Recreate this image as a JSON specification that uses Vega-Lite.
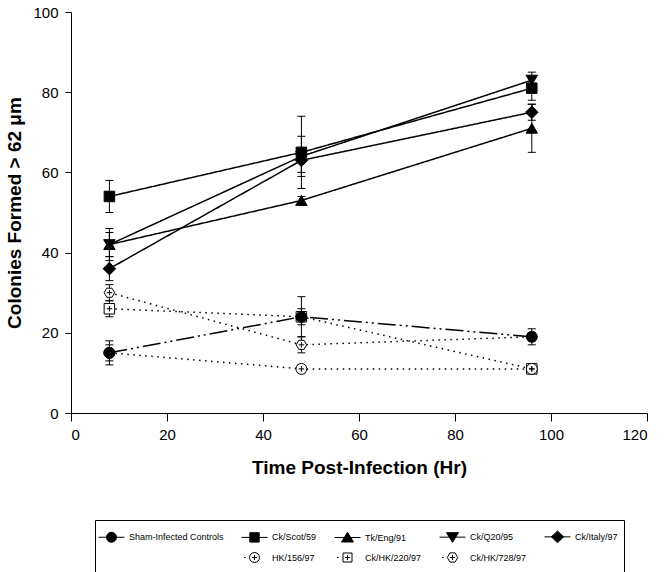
{
  "$schema": "https://vega.github.io/schema/vega-lite/v6.json",
  "width": 576,
  "height": 401,
  "padding": {"left": 5, "top": 5, "right": 5, "bottom": 3},
  "config": {
    "font": "Liberation Sans",
    "view": {"stroke": null},
    "axis": {"grid": false, "domainColor": "black", "tickColor": "black", "labelColor": "black", "titleColor": "black", "labelFont": "Liberation Sans", "titleFont": "Liberation Sans", "labelFontSize": 15, "titleFontSize": 19, "titleFontWeight": "bold", "domainWidth": 1, "tickWidth": 1},
    "legend": {"layout": {"bottom": {"anchor": "middle"}}}
  },
  "data": {"values": [
    {"series": "HK/156/97", "t": 8, "y": 15, "lo": 13, "hi": 17},
    {"series": "HK/156/97", "t": 48, "y": 11, "lo": 10, "hi": 12},
    {"series": "HK/156/97", "t": 96, "y": 11, "lo": 10, "hi": 12},
    {"series": "Ck/HK/220/97", "t": 8, "y": 26, "lo": 24, "hi": 28},
    {"series": "Ck/HK/220/97", "t": 48, "y": 24, "lo": 22, "hi": 26},
    {"series": "Ck/HK/220/97", "t": 96, "y": 11, "lo": 10, "hi": 12},
    {"series": "Ck/HK/728/97", "t": 8, "y": 30, "lo": 28, "hi": 32},
    {"series": "Ck/HK/728/97", "t": 48, "y": 17, "lo": 15, "hi": 19},
    {"series": "Ck/HK/728/97", "t": 96, "y": 19, "lo": 18, "hi": 20},
    {"series": "Sham-Infected Controls", "t": 8, "y": 15, "lo": 12, "hi": 18},
    {"series": "Sham-Infected Controls", "t": 48, "y": 24, "lo": 19, "hi": 29},
    {"series": "Sham-Infected Controls", "t": 96, "y": 19, "lo": 17, "hi": 21},
    {"series": "Ck/Scot/59", "t": 8, "y": 54, "lo": 50, "hi": 58},
    {"series": "Ck/Scot/59", "t": 48, "y": 65, "lo": 56, "hi": 74},
    {"series": "Ck/Scot/59", "t": 96, "y": 81, "lo": 78, "hi": 84},
    {"series": "Tk/Eng/91", "t": 8, "y": 42, "lo": 39, "hi": 45},
    {"series": "Tk/Eng/91", "t": 48, "y": 53, "lo": 52, "hi": 54},
    {"series": "Tk/Eng/91", "t": 96, "y": 71, "lo": 65, "hi": 77},
    {"series": "Ck/Q20/95", "t": 8, "y": 42, "lo": 38, "hi": 46},
    {"series": "Ck/Q20/95", "t": 48, "y": 64, "lo": 59, "hi": 69},
    {"series": "Ck/Q20/95", "t": 96, "y": 83, "lo": 81, "hi": 85},
    {"series": "Ck/Italy/97", "t": 8, "y": 36, "lo": 33, "hi": 39},
    {"series": "Ck/Italy/97", "t": 48, "y": 63, "lo": 60, "hi": 66},
    {"series": "Ck/Italy/97", "t": 96, "y": 75, "lo": 73, "hi": 77}
  ]},
  "resolve": {"scale": {"shape": "independent", "fill": "independent", "stroke": "independent", "strokeDash": "independent"}},
  "layer": [
    {
      "transform": [{"filter": "datum.t < 0"}],
      "mark": {"type": "point", "strokeWidth": 1, "opacity": 1, "size": 400},
      "encoding": {
        "x": {"field": "t", "type": "quantitative", "scale": {"domain": [0, 120]}, "axis": {"values": [0, 20, 40, 60, 80, 100, 120], "title": "Time Post-Infection (Hr)", "tickSize": 8, "labelPadding": 6, "titlePadding": 16}},
        "y": {"field": "y", "type": "quantitative", "scale": {"domain": [0, 100]}, "axis": {"values": [0, 20, 40, 60, 80, 100], "title": "Colonies Formed > 62 μm", "tickSize": 6, "labelPadding": 7, "titlePadding": 8}},
        "shape": {"field": "series", "type": "nominal",
          "scale": {"domain": ["Sham-Infected Controls", "Ck/Scot/59", "Tk/Eng/91", "Ck/Q20/95", "Ck/Italy/97", " ", "HK/156/97", "Ck/HK/220/97", "Ck/HK/728/97"],
                    "range": [
                      "M-1.3,0L1.3,0M-0.5,0A0.5,0.5,0,1,1,0.5,0A0.5,0.5,0,1,1,-0.5,0Z",
                      "M-1.3,0L1.3,0M-0.47,-0.47L0.47,-0.47L0.47,0.47L-0.47,0.47Z",
                      "M-1.3,0L1.3,0M0,-0.52L0.6,0.45L-0.6,0.45Z",
                      "M-1.3,0L1.3,0M0,0.52L0.6,-0.45L-0.6,-0.45Z",
                      "M-1.3,0L1.3,0M-0.62,0L0,-0.58L0.62,0L0,0.58Z",
                      "circle",
                      "M-1.05,0L-0.9,0M-0.5,0A0.5,0.5,0,1,1,0.5,0A0.5,0.5,0,1,1,-0.5,0ZM-0.25,0L0.25,0M0,-0.25L0,0.25",
                      "M-1.05,0L-0.9,0M-0.45,-0.45L0.45,-0.45L0.45,0.45L-0.45,0.45ZM-0.25,0L0.25,0M0,-0.25L0,0.25",
                      "M-1.05,0L-0.9,0M-0.52,0L-0.26,-0.46L0.26,-0.46L0.52,0L0.26,0.46L-0.26,0.46ZM-0.25,0L0.25,0M0,-0.25L0,0.25"
                    ]},
          "legend": {"title": null, "orient": "bottom", "direction": "horizontal", "columns": 5, "symbolSize": 400, "symbolStrokeColor": "black", "symbolStrokeWidth": 1, "symbolOpacity": 1, "labelFont": "Liberation Sans", "labelFontSize": 9, "labelColor": "black", "labelLimit": 300, "labelOffset": 7, "columnPadding": 15, "rowPadding": 0, "strokeColor": "black", "padding": 6, "offset": 43}},
        "fill": {"field": "series", "type": "nominal",
          "scale": {"domain": ["Sham-Infected Controls", "Ck/Scot/59", "Tk/Eng/91", "Ck/Q20/95", "Ck/Italy/97", " ", "HK/156/97", "Ck/HK/220/97", "Ck/HK/728/97"],
                    "range": ["black", "black", "black", "black", "black", "white", "white", "white", "white"]},
          "legend": {"title": null, "orient": "bottom", "direction": "horizontal", "columns": 5, "symbolSize": 400, "symbolStrokeColor": "black", "symbolStrokeWidth": 1, "symbolOpacity": 1, "labelFont": "Liberation Sans", "labelFontSize": 9, "labelColor": "black", "labelLimit": 300, "labelOffset": 7, "columnPadding": 15, "rowPadding": 0, "strokeColor": "black", "padding": 6, "offset": 43}},
        "stroke": {"field": "series", "type": "nominal",
          "scale": {"domain": ["Sham-Infected Controls", "Ck/Scot/59", "Tk/Eng/91", "Ck/Q20/95", "Ck/Italy/97", " ", "HK/156/97", "Ck/HK/220/97", "Ck/HK/728/97"],
                    "range": ["black", "black", "black", "black", "black", "white", "black", "black", "black"]},
          "legend": {"title": null, "orient": "bottom", "direction": "horizontal", "columns": 5, "symbolSize": 400, "symbolStrokeColor": "black", "symbolStrokeWidth": 1, "symbolOpacity": 1, "labelFont": "Liberation Sans", "labelFontSize": 9, "labelColor": "black", "labelLimit": 300, "labelOffset": 7, "columnPadding": 15, "rowPadding": 0, "strokeColor": "black", "padding": 6, "offset": 43}}
      }
    },
    {
      "mark": {"type": "line", "color": "black", "strokeWidth": 1.5},
      "encoding": {
        "x": {"field": "t", "type": "quantitative"},
        "y": {"field": "y", "type": "quantitative"},
        "detail": {"field": "series"},
        "strokeDash": {"field": "series", "type": "nominal", "legend": null,
          "scale": {"domain": ["Sham-Infected Controls", "Ck/Scot/59", "Tk/Eng/91", "Ck/Q20/95", "Ck/Italy/97", "HK/156/97", "Ck/HK/220/97", "Ck/HK/728/97"],
                    "range": [[18, 4, 2, 4, 2, 4], [1, 0], [1, 0], [1, 0], [1, 0], [1.5, 4.5], [1.5, 4.5], [1.5, 4.5]]}}
      }
    },
    {
      "mark": {"type": "rule", "color": "black", "strokeWidth": 1},
      "encoding": {
        "x": {"field": "t", "type": "quantitative"},
        "y": {"field": "lo", "type": "quantitative"},
        "y2": {"field": "hi"}
      }
    },
    {
      "mark": {"type": "point", "shape": "M-1,0L1,0", "size": 64, "stroke": "black", "strokeWidth": 1, "opacity": 1},
      "encoding": {
        "x": {"field": "t", "type": "quantitative"},
        "y": {"field": "lo", "type": "quantitative"}
      }
    },
    {
      "mark": {"type": "point", "shape": "M-1,0L1,0", "size": 64, "stroke": "black", "strokeWidth": 1, "opacity": 1},
      "encoding": {
        "x": {"field": "t", "type": "quantitative"},
        "y": {"field": "hi", "type": "quantitative"}
      }
    },
    {
      "transform": [{"filter": {"field": "series", "equal": "Ck/HK/728/97"}}],
      "mark": {"type": "point", "shape": "M-1,0L-0.5,-0.866L0.5,-0.866L1,0L0.5,0.866L-0.5,0.866Z", "size": 110, "stroke": "black", "strokeWidth": 1, "opacity": 1, "fill": "white"},
      "encoding": {
        "x": {"field": "t", "type": "quantitative"},
        "y": {"field": "y", "type": "quantitative"}
      }
    },
    {
      "transform": [{"filter": {"field": "series", "oneOf": ["Ck/HK/220/97", "Ck/Scot/59"]}}],
      "mark": {"type": "point", "shape": "square", "size": 110, "stroke": "black", "strokeWidth": 1, "opacity": 1},
      "encoding": {
        "x": {"field": "t", "type": "quantitative"},
        "y": {"field": "y", "type": "quantitative"},
        "fill": {"condition": {"test": {"field": "series", "oneOf": ["HK/156/97", "Ck/HK/220/97", "Ck/HK/728/97"]}, "value": "white"}, "value": "black"}
      }
    },
    {
      "transform": [{"filter": {"field": "series", "equal": "Tk/Eng/91"}}],
      "mark": {"type": "point", "shape": "triangle-up", "size": 130, "stroke": "black", "strokeWidth": 1, "opacity": 1, "fill": "black"},
      "encoding": {
        "x": {"field": "t", "type": "quantitative"},
        "y": {"field": "y", "type": "quantitative"}
      }
    },
    {
      "transform": [{"filter": {"field": "series", "equal": "Ck/Q20/95"}}],
      "mark": {"type": "point", "shape": "triangle-down", "size": 130, "stroke": "black", "strokeWidth": 1, "opacity": 1, "fill": "black"},
      "encoding": {
        "x": {"field": "t", "type": "quantitative"},
        "y": {"field": "y", "type": "quantitative"}
      }
    },
    {
      "transform": [{"filter": {"field": "series", "equal": "Ck/Italy/97"}}],
      "mark": {"type": "point", "shape": "diamond", "size": 160, "stroke": "black", "strokeWidth": 1, "opacity": 1, "fill": "black"},
      "encoding": {
        "x": {"field": "t", "type": "quantitative"},
        "y": {"field": "y", "type": "quantitative"}
      }
    },
    {
      "transform": [{"filter": {"field": "series", "oneOf": ["HK/156/97", "Sham-Infected Controls"]}}],
      "mark": {"type": "point", "shape": "circle", "size": 120, "stroke": "black", "strokeWidth": 1, "opacity": 1},
      "encoding": {
        "x": {"field": "t", "type": "quantitative"},
        "y": {"field": "y", "type": "quantitative"},
        "fill": {"condition": {"test": {"field": "series", "oneOf": ["HK/156/97", "Ck/HK/220/97", "Ck/HK/728/97"]}, "value": "white"}, "value": "black"}
      }
    },
    {
      "transform": [{"filter": {"field": "series", "oneOf": ["HK/156/97", "Ck/HK/220/97", "Ck/HK/728/97"]}}],
      "mark": {"type": "point", "shape": "M-1,0L1,0M0,-1L0,1", "size": 30, "stroke": "black", "strokeWidth": 1, "opacity": 1},
      "encoding": {
        "x": {"field": "t", "type": "quantitative"},
        "y": {"field": "y", "type": "quantitative"}
      }
    }
  ]
}
